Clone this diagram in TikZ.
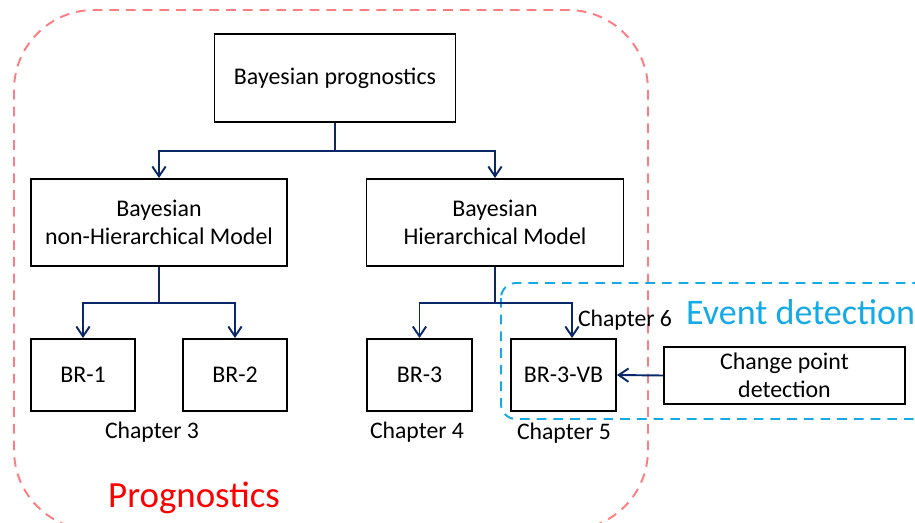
\documentclass[tikz,border=0pt]{standalone}
\usepackage{fontspec}
\setmainfont{Carlito}
\usepackage{tikz}
\usetikzlibrary{arrows,arrows.meta}

\definecolor{progpink}{RGB}{255,125,128}
\definecolor{eventblue}{RGB}{20,170,230}
\definecolor{linknavy}{RGB}{10,40,105}

\begin{document}
\begin{tikzpicture}[
  >={Straight Barb[length=5.6pt,width=7.6pt]},
  box/.style={draw,line width=1.1pt,align=center,inner sep=2pt,font=\fontsize{13.6}{16}\selectfont},
  chap/.style={font=\fontsize{13.5}{16}\selectfont},
  link/.style={draw=linknavy,line width=1.1pt,->},
  group/.style={line width=1.1pt,dash pattern=on 5.5pt off 4pt,rounded corners=#1},
  group/.default=1.6cm]
\useasboundingbox (0,0) rectangle (18.3,-10.44);
\draw [group,progpink] (0.28,-0.2) rectangle (12.96,-10.6);
\draw [group=0.3cm,eventblue] (10.02,-5.66) rectangle (18.7,-8.38);

\node [box,minimum width=4.82cm,minimum height=1.76cm] (root)     at (6.70,-1.56) {Bayesian prognostics};
\node [box,minimum width=5.12cm,minimum height=1.74cm] (nonhier)  at (3.18,-4.45) {Bayesian\\non-Hierarchical Model};
\node [box,minimum width=5.14cm,minimum height=1.74cm] (hier)     at (9.90,-4.45) {Bayesian\\Hierarchical Model};
\node [box,minimum width=2.08cm,minimum height=1.44cm] (br1)      at (1.66,-7.5)  {BR-1};
\node [box,minimum width=2.08cm,minimum height=1.44cm] (br2)      at (4.70,-7.5)  {BR-2};
\node [box,minimum width=2.10cm,minimum height=1.44cm] (br3)      at (8.39,-7.5)  {BR-3};
\node [box,minimum width=2.10cm,minimum height=1.44cm] (br3vb)    at (11.27,-7.5) {BR-3-VB};
\node [box,minimum width=4.82cm,minimum height=1.14cm] (cpd)      at (15.69,-7.51) {Change point\\detection};

\node [chap] (ch3) at (3.04,-8.64)  {Chapter 3};
\node [chap] (ch4) at (8.34,-8.64)  {Chapter 4};
\node [chap] (ch5) at (11.28,-8.66) {Chapter 5};
\node [chap] (ch6) at (12.5,-6.4)   {Chapter 6};

\node [anchor=west,text=eventblue,font=\fontsize{20.5}{22}\selectfont] (eventlbl) at (13.6,-6.24) {Event detection};
\node [anchor=west,text=red,font=\fontsize{21}{22}\selectfont] (proglbl) at (2.04,-9.96) {Prognostics};

\draw [link] (root.south)    -- ++(0,-0.56) -| (nonhier.north);
\draw [link] (root.south)    -- ++(0,-0.56) -| (hier.north);
\draw [link] (nonhier.south) -- ++(0,-0.72) -| (br1.north);
\draw [link] (nonhier.south) -- ++(0,-0.72) -| (br2.north);
\draw [link] (hier.south)    -- ++(0,-0.72) -| (br3.north);
\draw [link] (hier.south)    -- ++(0,-0.72) -| ([xshift=0.17cm]br3vb.north);
\draw [link] (cpd.west) -- (br3vb.east);
\end{tikzpicture}
\end{document}
